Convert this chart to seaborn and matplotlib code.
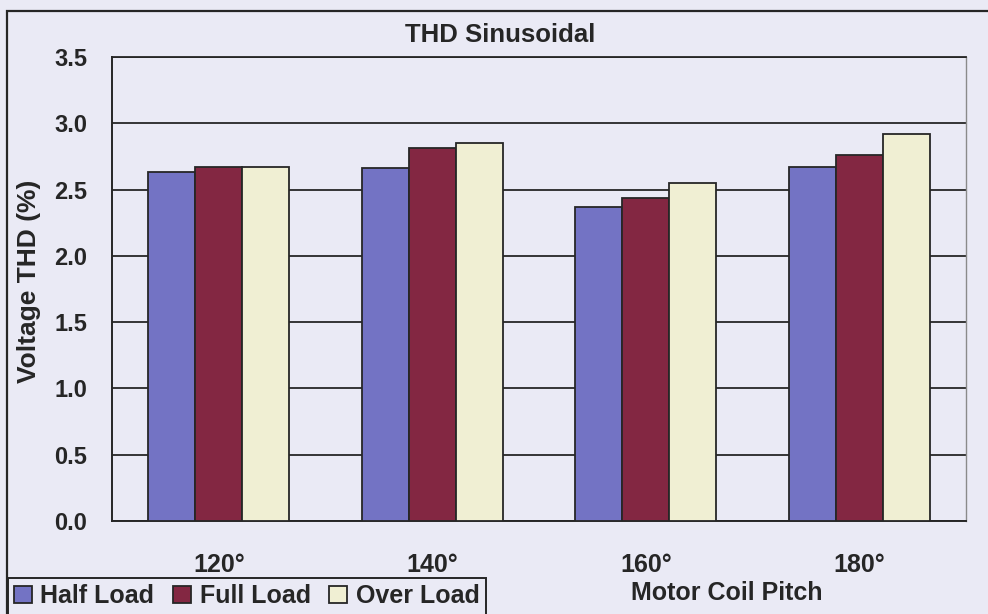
import matplotlib
matplotlib.use("Agg")
import matplotlib.pyplot as plt
from matplotlib.patches import Rectangle
from matplotlib.ticker import MultipleLocator, FixedLocator, FormatStrFormatter
import seaborn as sns
import pandas as pd

# Voltage THD (%) for each motor coil pitch and load condition
pitches = ["120°", "140°", "160°", "180°"]
loads = ["Half Load", "Full Load", "Over Load"]
half_load = [2.63, 2.66, 2.37, 2.67]
full_load = [2.67, 2.81, 2.44, 2.76]
over_load = [2.67, 2.85, 2.55, 2.92]

bar_colors = ["#7373C4", "#832742", "#F0EFD3"]
paper = "#EAEAF5"
ink = "#262626"

records = []
for load, vals in zip(loads, [half_load, full_load, over_load]):
    for p, v in zip(pitches, vals):
        records.append({"pitch": p, "load": load, "thd": v})
df = pd.DataFrame(records)

sns.set_style("white")
plt.rcParams["font.family"] = ["Liberation Sans", "DejaVu Sans"]
plt.rcParams["font.weight"] = "bold"

W, H = 988, 614
fig = plt.figure(figsize=(W / 100, H / 100), dpi=100, facecolor=paper)
ax = fig.add_axes([112 / W, 1 - 521 / H, (966 - 112) / W, (521 - 57) / H])
ax.set_facecolor(paper)

sns.barplot(data=df, x="pitch", y="thd", hue="load", order=pitches,
            hue_order=loads, palette=bar_colors, width=0.66,
            edgecolor=ink, linewidth=1.3, saturation=1, ax=ax, zorder=3)
handles, labels = ax.get_legend_handles_labels()
if ax.get_legend() is not None:
    ax.get_legend().remove()

# value axis
ax.set_ylim(0, 3.5)
ax.set_xlim(-0.5, 3.5)
ax.yaxis.set_major_locator(MultipleLocator(0.5))
ax.yaxis.set_major_formatter(FormatStrFormatter("%.1f"))
ax.grid(axis="y", color=ink, linewidth=1.3, zorder=0)
ax.set_axisbelow(True)
ax.tick_params(axis="y", which="major", direction="out", length=9, width=1.3,
               color=ink, pad=9, labelsize=17, labelcolor=ink)

# category axis: labels centred under groups, ticks on group boundaries
ax.xaxis.set_minor_locator(FixedLocator([-0.5, 0.5, 1.5, 2.5, 3.5]))
ax.tick_params(axis="x", which="major", length=0, pad=23, labelsize=18,
               labelcolor=ink)
ax.tick_params(axis="x", which="minor", direction="out", length=6, width=1.3,
               color=ink)

for side in ["left", "bottom"]:
    ax.spines[side].set_color(ink)
    ax.spines[side].set_linewidth(1.4)
ax.spines["top"].set_color(ink)
ax.spines["top"].set_linewidth(1.3)
ax.spines["right"].set_color("#8a8a8a")
ax.spines["right"].set_linewidth(1.0)

ax.set_ylabel("Voltage THD (%)", fontsize=19, fontweight="bold", color=ink)
ax.yaxis.set_label_coords((29 - 112) / (966 - 112), (521 - 281) / (521 - 57))
ax.yaxis.label.set_va("center")
ax.set_xlabel("Motor Coil Pitch", fontsize=18, fontweight="bold", color=ink)
ax.xaxis.set_label_coords((727 - 112) / (966 - 112), (521 - 593) / (521 - 57))
ax.xaxis.label.set_va("center")

fig.text(500 / W, 1 - 35 / H, "THD Sinusoidal", ha="center", va="center",
         fontsize=18.5, fontweight="bold", color=ink)

# chart area border
fig.patches.append(Rectangle((7 / W, -0.2), 1.2, 1 - 11 / H + 0.2,
                             transform=fig.transFigure, fill=False,
                             edgecolor=ink, linewidth=1.6))

leg = fig.legend(handles, labels, loc="upper left",
                 bbox_to_anchor=(8 / W, 1 - 578 / H), ncol=3, frameon=True,
                 fancybox=False, framealpha=1, facecolor=paper,
                 edgecolor=ink, fontsize=18, handlelength=0.7,
                 handleheight=0.7, handletextpad=0.35, columnspacing=0.75,
                 borderpad=0.25, borderaxespad=0)
leg.get_frame().set_linewidth(1.4)
for t in leg.get_texts():
    t.set_color(ink)
    t.set_fontweight("bold")

fig.savefig("out.png", dpi=100, facecolor=paper)
